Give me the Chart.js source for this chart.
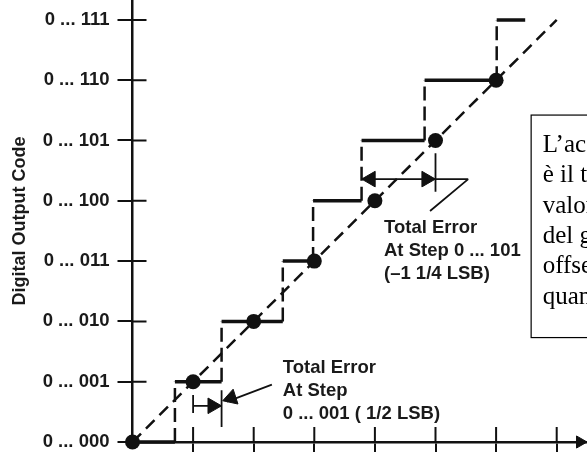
<!DOCTYPE html>
<html>
<head>
<meta charset="utf-8">
<script src="https://cdn.jsdelivr.net/npm/chart.js@4.4.1/dist/chart.umd.min.js"></script>
<style>
  html, body { margin: 0; padding: 0; background: #fff; overflow: hidden; }
  #wrap { width: 587px; height: 452px; }
</style>
</head>
<body>
<div id="wrap"><canvas id="adc" width="587" height="452"></canvas></div>
<script>
// output codes on the y axis
const codeLabels = ['0 ... 000', '0 ... 001', '0 ... 010', '0 ... 011', '0 ... 100', '0 ... 101', '0 ... 110', '0 ... 111'];
const codeTicks = [0, 1, 2, 3, 4, 5, 6, 7];
const inputTicks = [1, 2, 3, 4, 5, 6, 7];

// ideal step centres (dots) and ideal transfer line
const idealIn = [0, 1, 2, 3, 4, 5, 6];
const idealOut = [0, 1, 2, 3, 4, 5, 6];
const lineIn = [0, 7];
const lineOut = [0, 7];

// input (LSB) where the real converter changes code; code k runs from edge k to edge k+1
const stepEdges = [0, 0.70, 1.47, 2.48, 2.98, 3.78, 4.82, 6.01, 6.48];

// thin error markers: each pair is one segment
const markX = [[1, 1], [1, 1.46], [1.47, 1.47], [2.30, 1.56], [5, 5], [3.78, 5.54], [5.54, 4.91]];
const markY = [[0.48, 0.78], [0.60, 0.60], [0.25, 0.86], [0.95, 0.67], [4.15, 4.79], [4.36, 4.36], [4.36, 3.83]];

// arrow heads (last one closes the input axis)
const headX = [1.32, 1.63, 3.93, 4.85, 7.385];
const headY = [0.60, 0.73, 4.36, 4.36, 0];
const headTurn = [90, 252, 270, 90, 90];
const headSize = [9, 9, 9, 9, 7];

// text notes
const err1Lines = ['Total Error', 'At Step', '0 ... 001 ( 1/2 LSB)'];
const err1At = [2.48, 1.23];
const err5Lines = ['Total Error', 'At Step 0 ... 101', '(\u20131 1/4 LSB)'];
const err5At = [4.15, 3.55];
const noteLines = ['L\u2019accuratezza assoluta', 'è il totale degli errori:', 'valore di non linearità,', 'del guadagno, dell\u2019', 'offset e dell\u2019errore di', 'quantizzazione'];
const noteBox = [6.57, 5.43, 1.74]; // left, top, bottom

const ink = '#111';
const sans = '"Liberation Sans", Arial, sans-serif';

function pairs(xs, ys) {
  return xs.map((v, i) => ({ x: v, y: ys[i] }));
}

const treadPts = [];
for (let k = 0; k < codeLabels.length; k++) {
  treadPts.push({ x: stepEdges[k], y: k }, { x: stepEdges[k + 1], y: k }, { x: stepEdges[k + 1], y: null });
}
const riserPts = [];
for (let k = 1; k < codeLabels.length; k++) {
  riserPts.push({ x: stepEdges[k], y: k - 1 }, { x: stepEdges[k], y: k }, { x: stepEdges[k], y: null });
}
const markPts = [];
markX.forEach((xs, i) => {
  markPts.push({ x: xs[0], y: markY[i][0] }, { x: xs[1], y: markY[i][1] }, { x: xs[1], y: null });
});

const overlay = {
  id: 'overlay',
  afterDraw(chart) {
    const { ctx, scales: { x, y }, chartArea: a } = chart;
    ctx.save();
    // inner half of every tick mark
    ctx.strokeStyle = ink;
    ctx.lineWidth = 2;
    ctx.beginPath();
    codeTicks.slice(1).forEach(v => {
      const py = y.getPixelForValue(v);
      ctx.moveTo(a.left, py);
      ctx.lineTo(a.left + 14, py);
    });
    inputTicks.forEach(v => {
      const px = x.getPixelForValue(v);
      ctx.moveTo(px, a.bottom);
      ctx.lineTo(px, a.bottom - 15);
    });
    ctx.stroke();

    // error notes
    ctx.fillStyle = '#1a1a1a';
    ctx.font = 'bold 18.5px ' + sans;
    ctx.textBaseline = 'middle';
    ctx.textAlign = 'left';
    [[err1Lines, err1At], [err5Lines, err5At]].forEach(([lines, at]) => {
      const px = x.getPixelForValue(at[0]);
      const py = y.getPixelForValue(at[1]);
      lines.forEach((t, i) => ctx.fillText(t, px, py + i * 23));
    });

    // boxed note, cut by the right edge
    const bl = x.getPixelForValue(noteBox[0]);
    const bt = y.getPixelForValue(noteBox[1]);
    const bb = y.getPixelForValue(noteBox[2]);
    ctx.fillStyle = '#fff';
    ctx.fillRect(bl, bt, 400, bb - bt);
    ctx.strokeStyle = '#000';
    ctx.lineWidth = 1.2;
    ctx.strokeRect(bl + 0.5, bt + 0.5, 400, bb - bt);
    ctx.fillStyle = '#000';
    ctx.font = '25px "Liberation Serif", "Times New Roman", serif';
    noteLines.forEach((t, i) => ctx.fillText(t, bl + 12, bt + 31 + i * 30.3));
    ctx.restore();
  }
};

new Chart(document.getElementById('adc'), {
  type: 'scatter',
  data: {
    datasets: [
      {
        label: 'ideal centres',
        data: pairs(idealIn, idealOut),
        pointRadius: 7.5,
        pointBackgroundColor: ink,
        pointBorderWidth: 0,
        clip: false
      },
      {
        label: 'arrow heads',
        data: pairs(headX, headY),
        pointStyle: 'triangle',
        pointRotation: headTurn,
        pointRadius: headSize,
        pointBackgroundColor: ink,
        pointBorderColor: ink,
        pointBorderWidth: 1,
        clip: false
      },
      {
        label: 'real code',
        data: treadPts,
        showLine: true,
        borderColor: ink,
        borderWidth: 3.5,
        pointRadius: 0,
        clip: false
      },
      {
        label: 'code change',
        data: riserPts,
        showLine: true,
        borderColor: ink,
        borderWidth: 2.5,
        borderDash: [14, 6],
        pointRadius: 0,
        clip: false
      },
      {
        label: 'error markers',
        data: markPts,
        showLine: true,
        borderColor: ink,
        borderWidth: 1.8,
        pointRadius: 0,
        clip: false
      },
      {
        label: 'ideal line',
        data: pairs(lineIn, lineOut),
        showLine: true,
        borderColor: ink,
        borderWidth: 2.5,
        borderDash: [12, 7],
        pointRadius: 0,
        clip: false
      }
    ]
  },
  options: {
    responsive: false,
    animation: false,
    devicePixelRatio: 1,
    layout: { padding: 0, autoPadding: false },
    plugins: {
      legend: { display: false },
      tooltip: { enabled: false }
    },
    scales: {
      x: {
        type: 'linear',
        min: 0,
        max: 7.5,
        afterBuildTicks: s => { s.ticks = inputTicks.map(v => ({ value: v })); },
        afterFit: s => { s.height = 10; s.paddingLeft = 0; s.paddingRight = 0; },
        ticks: { display: false },
        grid: { drawOnChartArea: false, drawTicks: true, tickLength: 10, color: ink, lineWidth: 2 },
        border: { display: true, color: ink, width: 2.5 }
      },
      y: {
        type: 'linear',
        min: 0,
        max: 7.33,
        afterBuildTicks: s => { s.ticks = codeTicks.map(v => ({ value: v })); },
        afterFit: s => { s.width = 132.5; s.paddingTop = 0; s.paddingBottom = 0; },
        ticks: {
          padding: 8,
          color: '#1a1a1a',
          font: { family: sans, size: 18.5, weight: 'bold' },
          callback: v => codeLabels[v]
        },
        grid: { drawOnChartArea: false, drawTicks: true, tickLength: 15, color: ink, lineWidth: 2 },
        border: { display: true, color: ink, width: 2.5 },
        title: {
          display: true,
          text: 'Digital Output Code',
          color: '#1a1a1a',
          font: { family: sans, size: 18, weight: 'bold' },
          padding: { top: 9, bottom: 0 }
        }
      }
    }
  },
  plugins: [overlay]
});
</script>
</body>
</html>
